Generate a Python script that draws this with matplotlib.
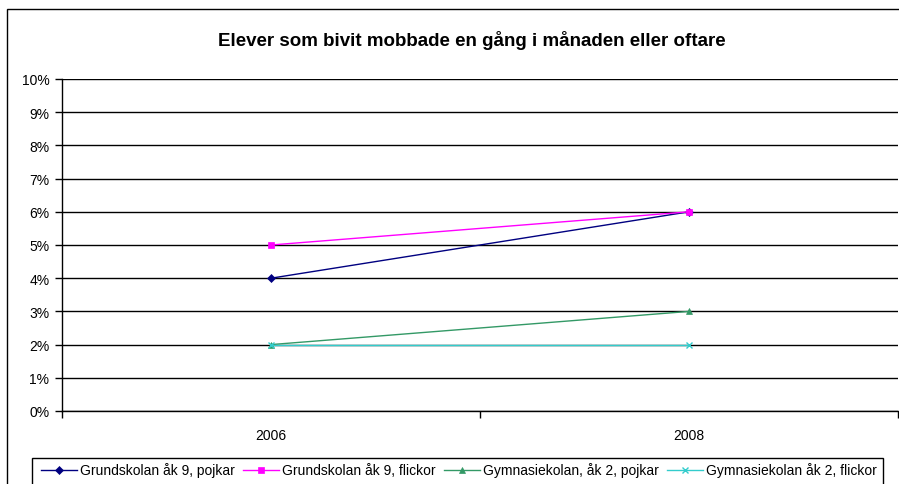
import matplotlib
matplotlib.use("Agg")
import matplotlib.pyplot as plt
from matplotlib.patches import Rectangle
from matplotlib.ticker import FuncFormatter, FixedLocator

plt.rcParams['font.family'] = ['Liberation Sans', 'DejaVu Sans']

title = "Elever som bivit mobbade en gång i månaden eller oftare"
years = ["2006", "2008"]
series_names = ["Grundskolan åk 9, pojkar", "Grundskolan åk 9, flickor",
                "Gymnasiekolan, åk 2, pojkar", "Gymnasiekolan åk 2, flickor"]
pojkar_gr = [0.04, 0.06]
flickor_gr = [0.05, 0.06]
pojkar_gy = [0.02, 0.03]
flickor_gy = [0.02, 0.02]
colors = ["#000080", "#FF00FF", "#339966", "#33CCCC"]
markers = ["D", "s", "^", "x"]
msizes = [4, 5, 5, 5]

W, H = 899, 485
fig = plt.figure(figsize=(W/100, H/100), dpi=100)
fig.patch.set_facecolor("white")

# outer frame
fig.patches.append(Rectangle((7/W, -0.1), 2.0, (H-10)/H + 0.1, transform=fig.transFigure,
                             fill=False, edgecolor="black", linewidth=1.0))

left, right = 62/W, 898/W
top, bottom = 1 - 80/H, 1 - 412/H
ax = fig.add_axes([left, bottom, right-left, top-bottom])

xs = [0.5, 1.5]
for vals, c, m, ms, name in zip([pojkar_gr, flickor_gr, pojkar_gy, flickor_gy],
                                colors, markers, msizes, series_names):
    ax.plot(xs, vals, color=c, marker=m, markersize=ms, linewidth=1.0,
            markeredgewidth=1.0 if m == "x" else 0.5, label=name, zorder=3)

ax.set_xlim(0, 2)
ax.set_ylim(0, 0.10)
ax.set_yticks([i/100 for i in range(11)])
ax.yaxis.set_major_formatter(FuncFormatter(lambda v, p: f"{round(v*100)}%"))
ax.yaxis.grid(True, color="black", linewidth=1.0)
ax.set_axisbelow(True)

ax.xaxis.set_major_locator(FixedLocator([0, 1, 2]))
ax.xaxis.set_major_formatter(FuncFormatter(lambda v, p: ""))
ax.xaxis.set_minor_locator(FixedLocator(xs))
ax.xaxis.set_minor_formatter(FuncFormatter(lambda v, p: years[int(v)]))
ax.tick_params(axis="x", which="minor", length=0, labelsize=10, pad=12)
ax.tick_params(axis="x", which="major", length=5, width=1, direction="out")
ax.tick_params(axis="y", length=5, width=1, direction="out", labelsize=10, pad=4)

for s in ["top", "right"]:
    ax.spines[s].set_visible(False)
for s in ["left", "bottom"]:
    ax.spines[s].set_color("black")
    ax.spines[s].set_linewidth(1.0)

fig.text(472/W, 1 - 40/H, title, ha="center", va="center", fontsize=13.5, fontweight="bold")

leg = fig.legend(loc="center", bbox_to_anchor=(459/W, 1 - 471/H), ncol=4, fontsize=10,
                 frameon=False, handlelength=2.6, handletextpad=0.2, columnspacing=0.6,
                 borderpad=0.3)
fig.patches.append(Rectangle((32/W, -0.1), (883-32)/W, (H-459)/H + 0.1, transform=fig.transFigure,
                             fill=False, edgecolor="black", linewidth=1.0))

fig.savefig("out.png", dpi=100)
